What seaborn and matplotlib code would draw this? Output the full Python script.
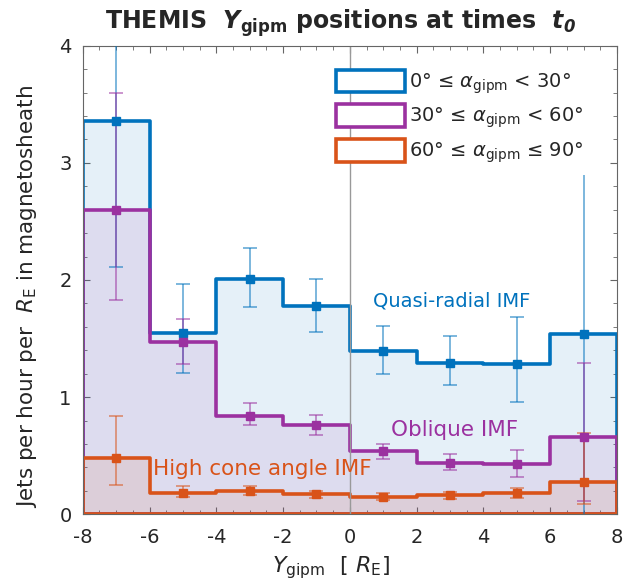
import numpy as np
import pandas as pd
import matplotlib
matplotlib.use("Agg")
import matplotlib.pyplot as plt
import seaborn as sns
from matplotlib.patches import Patch
from matplotlib.ticker import MultipleLocator

# ---- data ----
bin_edges = [-8, -6, -4, -2, 0, 2, 4, 6, 8]
bin_centers = [-7, -5, -3, -1, 1, 3, 5, 7]

quasi_radial = [3.36, 1.55, 2.01, 1.78, 1.39, 1.29, 1.28, 1.54]
quasi_err_lo = [1.25, 0.34, 0.24, 0.22, 0.19, 0.19, 0.32, 1.60]
quasi_err_hi = [1.30, 0.42, 0.26, 0.23, 0.22, 0.23, 0.40, 1.36]

oblique = [2.60, 1.47, 0.84, 0.76, 0.54, 0.44, 0.43, 0.66]
oblique_err_lo = [0.77, 0.19, 0.08, 0.08, 0.07, 0.06, 0.11, 0.55]
oblique_err_hi = [1.00, 0.20, 0.11, 0.09, 0.06, 0.07, 0.12, 0.63]

high_cone = [0.48, 0.185, 0.20, 0.17, 0.15, 0.16, 0.18, 0.275]
high_err_lo = [0.23, 0.04, 0.035, 0.03, 0.03, 0.03, 0.04, 0.19]
high_err_hi = [0.36, 0.06, 0.04, 0.03, 0.03, 0.03, 0.04, 0.415]

series_names = ["Quasi-radial IMF", "Oblique IMF", "High cone angle IMF"]
legend_labels = [r"0° ≤ $\alpha_{\mathrm{gipm}}$ < 30°",
                 r"30° ≤ $\alpha_{\mathrm{gipm}}$ < 60°",
                 r"60° ≤ $\alpha_{\mathrm{gipm}}$ ≤ 90°"]
x_ticks = [-8, -6, -4, -2, 0, 2, 4, 6, 8]
y_ticks = [0, 1, 2, 3, 4]

colors = ["#0072BD", "#9B31A0", "#D95319"]

# ---- figure ----
sns.set_style("ticks")
plt.rcParams["font.family"] = ["DejaVu Sans"]
plt.rcParams["mathtext.fontset"] = "dejavusans"

fig = plt.figure(figsize=(6.27, 5.87), dpi=100)
ax = fig.add_axes([0.132, 0.124, 0.852, 0.798])

values = [quasi_radial, oblique, high_cone]
errs = [(quasi_err_lo, quasi_err_hi), (oblique_err_lo, oblique_err_hi),
        (high_err_lo, high_err_hi)]

ax.axvline(0, color="#999999", lw=1.0, zorder=1.5)

for vals, col in zip(values, colors):
    df = pd.DataFrame({"y": bin_centers, "w": vals})
    sns.histplot(data=df, x="y", weights="w", bins=bin_edges, element="step",
                 fill=True, color=col, alpha=0.1, linewidth=2.6,
                 edgecolor=col, ax=ax, zorder=1)

for vals, (lo, hi), col in zip(values, errs, colors):
    n = len(bin_centers)
    main = list(range(n)) if col != colors[0] else list(range(n - 1))
    ax.errorbar([bin_centers[i] for i in main], [vals[i] for i in main],
                yerr=[[lo[i] for i in main], [hi[i] for i in main]],
                fmt="s", color=col, ecolor=col, elinewidth=1.1, capsize=5,
                capthick=1.1, markersize=5.5, zorder=3)
    if col == colors[0]:
        i = n - 1
        ax.errorbar([bin_centers[i]], [vals[i]], yerr=[[lo[i]], [hi[i]]],
                    fmt="s", color=col, ecolor=col, elinewidth=1.1, capsize=0,
                    markersize=5.5, zorder=3)

for coll in ax.collections:
    if isinstance(coll, matplotlib.collections.LineCollection):
        coll.set_alpha(0.65)
for ln in ax.lines:
    if ln.get_marker() in ("_",):
        ln.set_alpha(0.65)

ax.text(0.69, 1.82, series_names[0], color=colors[0], fontsize=14,
        ha="left", va="center")
ax.text(1.23, 0.72, series_names[1], color=colors[1], fontsize=15.5,
        ha="left", va="center")
ax.text(-5.9, 0.39, series_names[2], color=colors[2], fontsize=15.5,
        ha="left", va="center")

ax.set_xlim(-8, 8)
ax.set_ylim(0, 4)
ax.set_xticks(x_ticks)
ax.set_yticks(y_ticks)
ax.set_xticklabels([str(t) for t in x_ticks])
ax.set_yticklabels([str(t) for t in y_ticks])
ax.xaxis.set_minor_locator(MultipleLocator(0.5))
ax.yaxis.set_minor_locator(MultipleLocator(0.2))
ax.tick_params(which="both", direction="in", top=True, right=True,
               color="#666666", labelsize=14, labelcolor="#262626")
ax.tick_params(which="major", length=5, width=0.8)
ax.tick_params(which="minor", length=3, width=0.6)
ax.tick_params(axis="x", which="major", pad=10)
ax.tick_params(axis="y", which="major", pad=8)
for sp in ax.spines.values():
    sp.set_color("#666666")
    sp.set_linewidth(0.8)

ax.set_xlabel(r"$Y_{\mathrm{gipm}}$  [ $R_{\mathrm{E}}$]", fontsize=16,
              color="#262626")
ax.xaxis.set_label_coords(0.464, -0.085)
ax.set_ylabel(r"Jets per hour per  $R_{\mathrm{E}}$ in magnetosheath",
              fontsize=15.5, color="#262626")
ax.yaxis.set_label_coords(-0.082, 0.466)
ax.set_title(r"THEMIS  $\mathbfit{Y}_{\mathbf{gipm}}$ positions at times  $\mathbfit{t}_{\mathbfit{0}}$",
             fontsize=17, fontweight="bold", pad=12, x=0.482)

handles = [Patch(facecolor="white", edgecolor=c, linewidth=2.6) for c in colors]
leg = ax.legend(handles, legend_labels, loc="upper left",
                bbox_to_anchor=(0.474, 0.949), frameon=False, fontsize=14,
                handlelength=3.55, handleheight=1.4, handletextpad=0.2,
                labelspacing=0.45, borderpad=0, borderaxespad=0)
for t in leg.get_texts():
    t.set_color("#262626")

fig.savefig("out.png", dpi=100)
